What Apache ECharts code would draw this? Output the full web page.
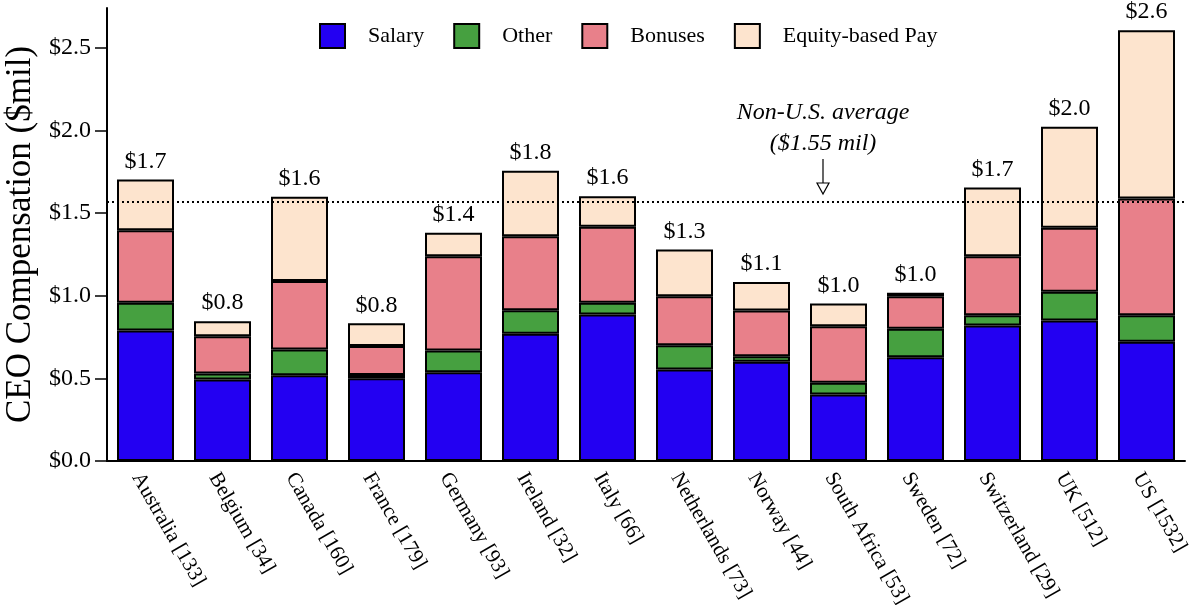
<!DOCTYPE html>
<html><head><meta charset="utf-8">
<script src="https://cdn.jsdelivr.net/npm/echarts@6/dist/echarts.min.js"></script>
<style>html,body{margin:0;padding:0;background:#fff}#c{width:1190px;height:605px}</style>
</head><body><div id="c"></div>
<script>
const countries = ['Australia [133]','Belgium [34]','Canada [160]','France [179]','Germany [93]','Ireland [32]','Italy [66]','Netherlands [73]','Norway [44]','South Africa [53]','Sweden [72]','Switzerland [29]','UK [512]','US [1532]'];
const salary  = [0.790,0.493,0.519,0.500,0.537,0.769,0.886,0.553,0.600,0.402,0.628,0.820,0.850,0.721];
const other   = [0.167,0.036,0.156,0.020,0.131,0.143,0.071,0.147,0.034,0.071,0.172,0.062,0.173,0.161];
const bonuses = [0.439,0.226,0.413,0.175,0.571,0.448,0.460,0.297,0.276,0.342,0.197,0.357,0.388,0.706];
const equity  = [0.307,0.091,0.510,0.138,0.141,0.395,0.185,0.283,0.172,0.138,0.021,0.415,0.611,1.018];
const yTicks = [0, 0.5, 1.0, 1.5, 2.0, 2.5];
const nonUsAverage = 1.575;
const seriesNames = ['Salary','Other','Bonuses','Equity-based Pay'];
const seriesColors = ['#2300f2','#46a040','#e8808a','#fde4ce'];

const FONT = "'Liberation Serif','Times New Roman',serif";
const chart = echarts.init(document.getElementById('c'), null, {renderer:'canvas'});
const dataSets = [salary, other, bonuses, equity];

const series = dataSets.map((d, k) => {
  const s = {
    name: seriesNames[k],
    type: 'bar',
    stack: 'total',
    barWidth: 57,
    data: d,
    itemStyle: { color: seriesColors[k], borderColor: '#000', borderWidth: 2 },
    emphasis: { disabled: true }
  };
  if (k === 3) {
    s.label = {
      show: true, position: 'top', distance: 6,
      fontFamily: FONT, fontSize: 24, color: '#000',
      formatter: p => '$' + (salary[p.dataIndex] + other[p.dataIndex] + bonuses[p.dataIndex] + equity[p.dataIndex]).toFixed(1)
    };
  }
  if (k === 0) {
    s.markLine = {
      silent: true, symbol: 'none', z: 10,
      lineStyle: { type: [2, 3], color: '#000', width: 2 },
      label: { show: false },
      data: [{ yAxis: nonUsAverage }]
    };
  }
  return s;
});

chart.setOption({
  animation: false,
  backgroundColor: '#fff',
  textStyle: { fontFamily: FONT },
  grid: { left: 107, right: 5, top: 8, bottom: 144, containLabel: false, outerBoundsMode: 'none' },
  legend: {
    data: seriesNames,
    left: 314, top: 18,
    icon: 'rect', itemWidth: 25, itemHeight: 24, itemGap: 29,
    textStyle: { fontFamily: FONT, fontSize: 22, color: '#000', padding: [0, 0, 0, 18] }
  },
  xAxis: {
    type: 'category', data: countries,
    axisLine: { lineStyle: { color: '#000', width: 2 } },
    axisTick: { show: false },
    axisLabel: { rotate: -60, interval: 0, margin: 8, verticalAlign: 'top', fontFamily: FONT, fontSize: 21, color: '#000' }
  },
  yAxis: {
    type: 'value', min: 0, max: 2.74,
    name: 'CEO Compensation ($mil)', nameLocation: 'middle', nameGap: 62,
    nameTextStyle: { fontFamily: FONT, fontSize: 35, color: '#000' },
    axisLine: { show: true, lineStyle: { color: '#000', width: 2 } },
    axisTick: { show: true, length: 12, lineStyle: { color: '#000', width: 1.5 }, customValues: yTicks },
    axisLabel: { fontFamily: FONT, fontSize: 24, color: '#000', margin: 16, customValues: yTicks,
      formatter: v => '$' + v.toFixed(1) },
    splitLine: { show: false }
  },
  series: series,
  graphic: [
    { type: 'text', x: 823, y: 113, style: { text: 'Non-U.S. average', align: 'center', verticalAlign: 'middle', fontFamily: FONT, fontStyle: 'italic', fontSize: 24, fill: '#000' } },
    { type: 'text', x: 823, y: 144, style: { text: '($1.55 mil)', align: 'center', verticalAlign: 'middle', fontFamily: FONT, fontStyle: 'italic', fontSize: 24, fill: '#000' } },
    { type: 'line', shape: { x1: 823, y1: 159, x2: 823, y2: 183 }, style: { stroke: '#000', lineWidth: 1.2 } },
    { type: 'polygon', shape: { points: [[817, 183], [829, 183], [823, 194]] }, style: { fill: '#fff', stroke: '#000', lineWidth: 1.2 } }
  ]
});
</script></body></html>
